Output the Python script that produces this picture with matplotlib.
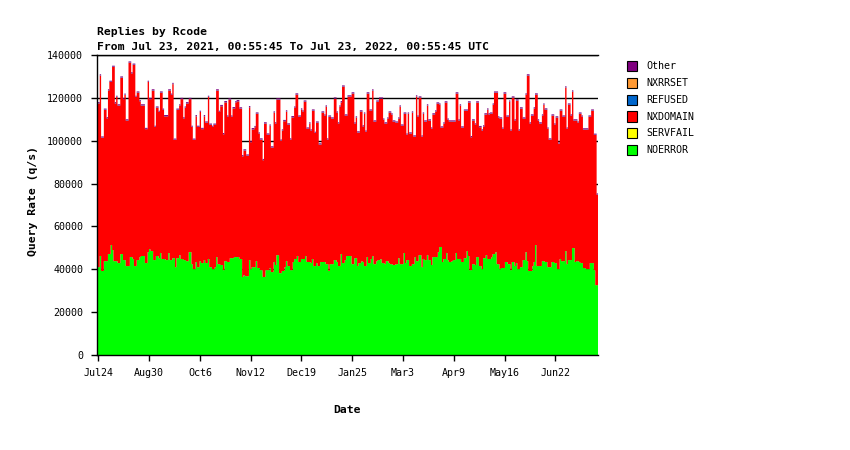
import matplotlib
matplotlib.use("Agg")
import matplotlib.pyplot as plt
import matplotlib.dates as mdates
from matplotlib.patches import Rectangle
import numpy as np
import datetime as dt

title_line1 = "Replies by Rcode"
title_line2 = "From Jul 23, 2021, 00:55:45 To Jul 23, 2022, 00:55:45 UTC"
y_label = "Query Rate (q/s)"
x_label = "Date"

legend_labels = ["Other", "NXRRSET", "REFUSED", "NXDOMAIN", "SERVFAIL", "NOERROR"]
legend_colors = ["#800080", "#FF9933", "#0066CC", "#FF0000", "#FFFF00", "#00FF00"]

tick_dates = ["2021-07-24", "2021-08-30", "2021-10-06", "2021-11-12", "2021-12-19",
              "2022-01-25", "2022-03-03", "2022-04-09", "2022-05-16", "2022-06-22"]
tick_labels = ["Jul24", "Aug30", "Oct6", "Nov12", "Dec19",
               "Jan25", "Mar3", "Apr9", "May16", "Jun22"]
y_ticks = [0, 20000, 40000, 60000, 80000, 100000, 120000, 140000]

# daily top of each stacked bar (thousand q/s)
top_k = [
    118, 118, 131, 102, 102, 115, 115, 111, 124, 128,
    128, 135, 135, 118, 121, 117, 117, 130, 130, 120,
    122, 110, 110, 137, 137, 132, 136, 136, 121, 123,
    123, 119, 117, 117, 117, 106, 106, 128, 120, 120,
    124, 124, 107, 116, 116, 114, 123, 123, 115, 112,
    112, 112, 124, 124, 122, 127, 101, 101, 115, 115,
    117, 120, 120, 111, 116, 118, 118, 120, 120, 107,
    101, 101, 112, 107, 107, 114, 106, 106, 112, 109,
    109, 121, 108, 108, 107, 108, 108, 124, 124, 114,
    116.7, 116.7, 103.6, 118.5, 118.5, 111.8, 119.8, 119.8, 111.8, 115.7,
    115.7, 118.5, 119.0, 119.0, 115.6, 115.6, 93.3, 96.0, 96.0, 93.6,
    93.6, 116.2, 99.9, 105.9, 105.9, 106.9, 113.2, 113.2, 103.9, 101.1,
    101.1, 91.5, 108.6, 108.6, 103.4, 103.4, 107.6, 97.4, 97.4, 113.7,
    108.6, 119.8, 119.8, 119.8, 100.6, 105.3, 109.7, 109.7, 114.2, 108.1,
    108.1, 101.1, 111.5, 111.5, 116.0, 122.1, 122.1, 111.8, 111.8, 115.1,
    114.2, 118.8, 118.8, 106.2, 106.2, 108.6, 105.3, 114.6, 114.6, 104.2,
    109.0, 109.0, 98.8, 98.8, 113.7, 113.7, 112.3, 116.5, 101.1, 111.8,
    111.8, 110.9, 110.9, 120.2, 120.2, 113.7, 108.6, 116.5,
    118.5, 125.8, 125.8, 112.3, 112.3, 121.2, 121.2, 121.2, 122.6, 122.6,
    108.6, 111.4, 104.4, 104.4, 114.2, 114.2, 107.2, 113.2, 104.8, 122.6,
    122.6, 114.6, 114.6, 124.0, 109.5, 109.5, 118.8, 118.8, 120.2, 120.2,
    120.2, 110.4, 108.6, 108.6, 110.9, 113.7, 113.7, 112.8, 109.5, 109.5,
    109.0, 109.0, 110.9, 116.5, 107.6, 107.6, 113.2, 113.2, 103.4, 113.2,
    103.9, 103.9, 113.7, 102.5, 102.5, 121.2, 111.8, 120.7, 120.7, 102.5,
    113.2, 109.5, 109.5, 117.0, 110.0, 110.0, 106.2, 112.8, 112.8, 114.2,
    117.9, 117.9, 117.4, 106.7, 106.7, 108.6, 118.4, 118.4, 110.4, 109.5,
    109.5, 109.5, 109.5, 109.5, 122.6, 122.6, 110.0,
    117.0, 106.7, 106.7, 114.6, 114.6, 114.6, 118.4, 118.4, 102.2, 110.0,
    110.0, 108.1, 118.4, 118.4, 106.9, 106.9, 105.3, 107.2, 112.8, 112.8,
    115.1, 112.8, 113.2, 113.2, 117.4, 123.0, 123.0, 123.0, 111.4, 110.9,
    110.9, 106.2, 122.6, 122.6, 111.8, 111.8, 118.8, 105.3, 120.7, 120.7,
    110.0, 119.3, 119.3, 105.3, 115.6, 115.6, 110.9, 110.9, 122.1, 131.0,
    131.0, 108.6, 112.3, 112.3, 115.6, 122.1, 122.1, 110.0, 108.6, 108.6,
    112.3, 117.4, 115.1, 115.1, 106.2, 101.1, 101.1, 112.3, 112.3, 108.1,
    111.4, 111.4, 99.2, 114.6, 114.6, 111.8, 111.8, 125.4, 106.2, 117.4,
    117.4, 112.3, 123.5, 110.0, 110.0, 110.0, 109.0, 113.2, 113.2, 111.8,
    105.8, 105.8, 105.8, 105.8, 111.8, 111.8, 114.6, 114.6, 103.3, 103.3,
    75.4,
]

# daily NOERROR (thousand q/s)
noerror_k = [
    41.0, 41.0, 46.2, 39.2, 39.2, 43.8, 43.8, 43.8, 47.1, 47.1,
    51.3, 49.0, 43.8, 43.8, 43.8, 42.9, 42.9, 47.1, 47.1, 44.3,
    44.3, 41.5, 41.5, 41.5, 45.7, 45.7, 44.8, 41.5, 41.5, 44.3,
    44.3, 45.7, 46.2, 46.2, 46.2, 42.9, 42.9, 48.0, 49.4, 48.5,
    48.5, 44.3, 44.3, 46.2, 46.2, 45.2, 47.6, 44.8, 44.8, 44.8,
    44.3, 44.3, 47.6, 44.3, 44.3, 45.2, 45.2, 41.0, 45.2, 45.2,
    46.6, 44.8, 44.8, 44.3, 44.3, 43.8, 43.8, 48.0, 48.0, 42.4,
    40.1, 40.1, 43.4, 41.0, 41.0, 43.8, 42.9, 42.9, 44.3, 42.9,
    42.9, 44.8, 41.0, 41.0, 40.1, 40.1, 41.0, 45.7, 42.4, 42.4,
    42.0, 42.0, 39.6, 43.8, 43.8, 43.4, 43.4, 45.2, 45.2, 45.2,
    45.7, 45.7, 45.7, 45.7, 44.8, 44.8, 36.4, 37.3, 36.8, 36.8,
    36.8, 44.3, 40.1, 41.0, 41.0, 41.0, 43.8, 40.6, 40.6, 39.6,
    39.6, 36.4, 36.4, 39.6, 39.6, 39.6, 40.6, 38.7, 38.7, 43.4,
    42.0, 46.6, 46.6, 38.2, 38.2, 39.2, 39.2, 41.0, 43.8, 41.5,
    41.5, 39.6, 39.6, 43.4, 44.8, 44.8, 46.2, 43.4, 43.4, 44.8,
    44.8, 44.8, 46.2, 43.4, 43.4, 43.4, 42.9, 44.8, 41.5, 41.5,
    42.9, 41.5, 41.5, 43.4, 43.4, 43.4, 43.4, 42.4, 42.4, 39.2,
    42.4, 42.4, 42.4, 44.3, 44.3, 43.4, 41.5, 41.5,
    47.1, 42.9, 42.9, 44.3, 46.2, 46.2, 46.2, 46.2, 42.4, 42.4,
    45.2, 45.2, 41.5, 42.9, 42.9, 43.8, 43.4, 41.5, 41.5, 45.7,
    42.9, 42.9, 44.8, 46.2, 42.4, 42.4, 43.8, 44.3, 44.3, 44.8,
    42.9, 42.9, 42.4, 43.8, 43.8, 42.9, 42.4, 42.4, 42.0, 42.0,
    42.4, 42.4, 45.2, 42.4, 42.4, 42.4, 47.6, 42.9, 44.3, 44.3,
    41.5, 41.5, 42.4, 42.4, 45.7, 43.8, 43.8, 46.6, 46.6, 41.0,
    44.8, 44.3, 44.3, 46.6, 44.3, 44.3, 42.0, 45.7, 45.7, 45.7,
    45.7, 48.0, 50.4, 50.4, 43.4, 44.8, 44.8, 47.6, 44.3, 43.4,
    43.4, 43.8, 44.3, 44.3, 47.6, 44.8, 44.8,
    44.8, 43.4, 43.4, 45.2, 45.2, 48.5, 46.2, 39.6, 39.6, 42.4,
    42.4, 42.0, 45.7, 45.7, 41.5, 41.5, 40.1, 45.2, 45.2, 46.6,
    44.8, 44.8, 44.8, 45.7, 47.1, 47.1, 48.0, 42.4, 42.4, 40.1,
    40.6, 40.6, 40.6, 43.4, 43.4, 42.4, 42.4, 39.6, 43.4, 43.4,
    41.5, 42.9, 40.1, 40.1, 41.0, 41.0, 44.3, 44.3, 48.0, 43.8,
    39.2, 39.2, 39.2, 41.5, 43.4, 51.3, 41.5, 41.5, 41.5, 41.5,
    43.8, 43.8, 43.4, 43.4, 41.0, 41.0, 41.0, 43.4, 43.4, 42.9,
    42.9, 40.1, 40.1, 44.8, 43.8, 43.8, 43.8, 48.5, 42.4, 44.3,
    44.3, 44.3, 49.9, 49.9, 43.4, 43.8, 43.8, 43.4, 42.9, 42.9,
    40.6, 40.6, 40.1, 40.1, 40.1, 42.9, 42.9, 42.9, 39.6, 32.6,
    32.6,
]

# tiny caps on top of every bar (too thin to read per day; typical value, thousand q/s)
refused_typical_k = 0.15
other_typical_k = 0.45

start = dt.datetime(2021, 7, 23, 0, 55, 45)
end = dt.datetime(2022, 7, 23, 0, 55, 45)

MONO = ["DejaVu Sans Mono"]

fig = plt.figure(figsize=(8.5, 4.5), dpi=100)
ax = fig.add_axes([97 / 850, 1 - 355 / 450, 501 / 850, 300 / 450])

n = len(top_k)
x0 = mdates.date2num(start)
x1 = mdates.date2num(end)
edges = np.linspace(x0, x1, n + 1)

noerror = np.array(noerror_k) * 1000
top = np.array(top_k) * 1000
refused = np.full(n, refused_typical_k * 1000)
other = np.full(n, other_typical_k * 1000)
nxdomain = top - noerror - refused - other

b = np.zeros(n)
for vals, col in [(noerror, "#00FF00"), (nxdomain, "#FF0000"),
                  (refused, "#0066CC"), (other, "#800080")]:
    ax.stairs(b + vals, edges, baseline=b, fill=True, color=col,
              linewidth=0, zorder=2)
    b = b + vals

ax.set_xlim(x0, x1)
ax.set_ylim(0, 140000)
ax.set_yticks(y_ticks)
ax.set_yticklabels([str(v) for v in y_ticks], fontfamily=MONO, fontsize=7.2)
ax.set_xticks([mdates.date2num(dt.datetime.strptime(d, "%Y-%m-%d")) for d in tick_dates])
ax.set_xticklabels(tick_labels, fontfamily=MONO, fontsize=7.2)
ax.tick_params(axis="both", direction="out", length=4, width=1, color="black")
ax.tick_params(axis="x", pad=5.5)
ax.tick_params(axis="y", pad=6)

ax.yaxis.grid(True, color="black", linewidth=1)
ax.set_axisbelow(True)
ax.spines["right"].set_visible(False)
ax.spines["top"].set_visible(True)
for s in ["left", "bottom", "top"]:
    ax.spines[s].set_linewidth(1)
    ax.spines[s].set_color("black")

fig.text(97 / 850, 1 - 32 / 450, title_line1, fontfamily=MONO, fontsize=8.2,
         fontweight="bold", va="center", ha="left")
fig.text(97 / 850, 1 - 47 / 450, title_line2, fontfamily=MONO, fontsize=8.2,
         fontweight="bold", va="center", ha="left")
fig.text(33 / 850, 1 - 201 / 450, y_label, fontfamily=MONO, fontsize=8.2,
         fontweight="bold", va="center", ha="center", rotation=90)
fig.text(347 / 850, 1 - 410 / 450, x_label, fontfamily=MONO, fontsize=8.2,
         fontweight="bold", va="center", ha="center")

row_y = [66, 83, 100, 116.5, 133, 150]
for lab, col, yy in zip(legend_labels, legend_colors, row_y):
    fig.patches.append(Rectangle((627 / 850, 1 - (yy + 5) / 450), 10 / 850, 10 / 450,
                                 transform=fig.transFigure, facecolor=col,
                                 edgecolor="black", linewidth=0.8))
    fig.text(646 / 850, 1 - yy / 450, lab, fontfamily=MONO, fontsize=7.2,
             va="center", ha="left")

fig.savefig("out.png", dpi=100)
